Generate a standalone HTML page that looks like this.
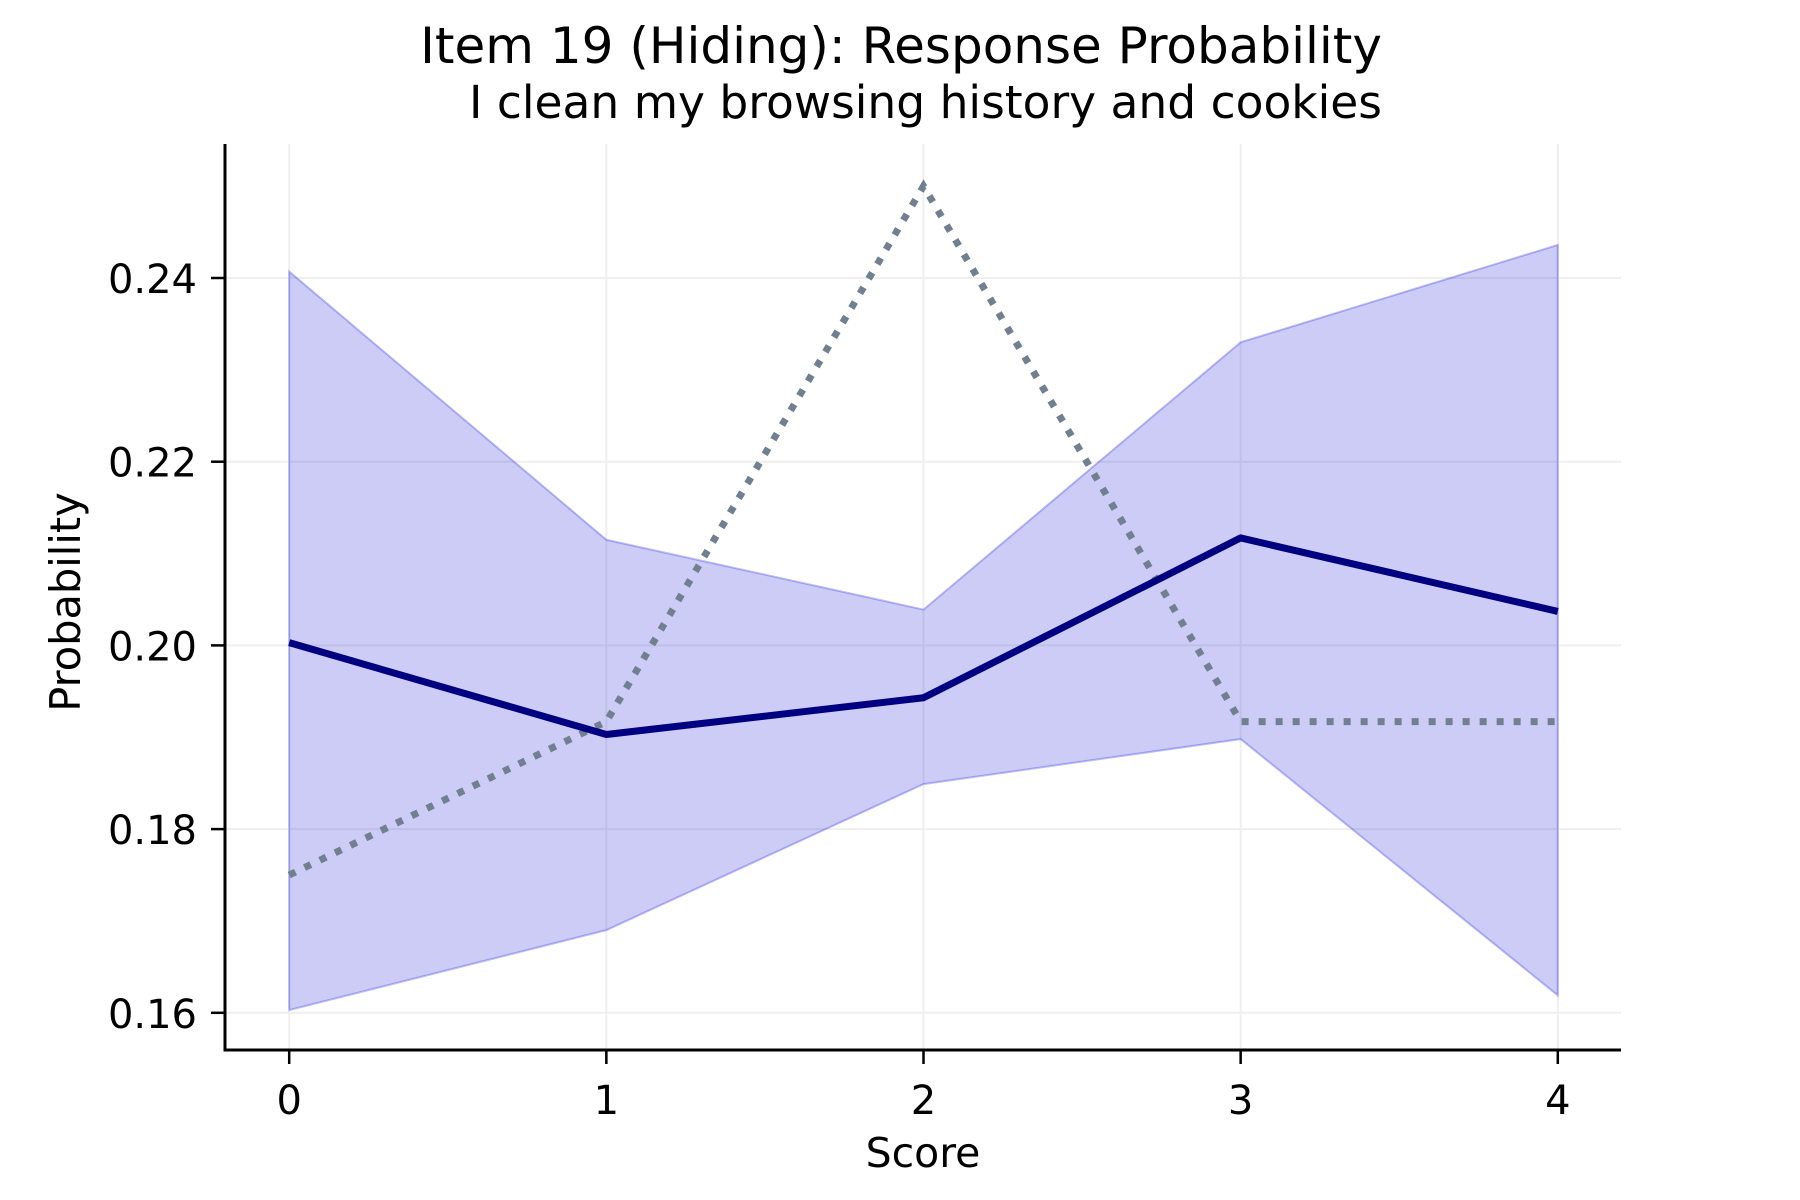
<!DOCTYPE html>
<html><head><meta charset="utf-8"><style>
html,body{margin:0;padding:0;background:#fff;}
svg{display:block;font-family:"DejaVu Sans","Liberation Sans",sans-serif;}
</style></head><body>
<svg id="chart" width="1800" height="1200" viewBox="0 0 1800 1200">
<text x="1382" y="63" text-anchor="end" font-size="50">Item 19 (Hiding): Response Probability</text>
<text x="1382" y="118" text-anchor="end" font-size="45.5">I clean my browsing history and cookies</text>
<g id="grid"></g>
<g id="plot"></g>
<g id="axes"></g>
<text x="923" y="1167" text-anchor="middle" font-size="41">Score</text>
<text transform="translate(80,602) rotate(-90)" text-anchor="middle" font-size="41.5">Probability</text>
</svg>
<script>
const scores = [0, 1, 2, 3, 4];
const meanProb = [0.2003, 0.1903, 0.1943, 0.2117, 0.2037];
const upperProb = [0.2407, 0.2115, 0.2039, 0.2330, 0.2436];
const lowerProb = [0.1603, 0.1690, 0.1849, 0.1898, 0.1619];
const observedProb = [0.1750, 0.1917, 0.2500, 0.1917, 0.1917];
const yTicks = [0.16, 0.18, 0.20, 0.22, 0.24];
const yTickLabels = ["0.16", "0.18", "0.20", "0.22", "0.24"];

const NS = "http://www.w3.org/2000/svg";
const L = 225, R = 1621, T = 144, B = 1050;
const x = v => 289.2 + (v - 0) * 317.15;
const y = v => 645.4 - (v - 0.20) / 0.02 * 183.7;
function mk(tag, attrs, parent) {
  const e = document.createElementNS(NS, tag);
  for (const k in attrs) e.setAttribute(k, attrs[k]);
  parent.appendChild(e);
  return e;
}
const grid = document.getElementById('grid');
const plot = document.getElementById('plot');
const axes = document.getElementById('axes');

scores.forEach(s => {
  const g = mk('line', {x1: x(s), x2: x(s), y1: T, y2: B, stroke: '#efefef', 'stroke-width': 2}, grid);
  
  
});
yTicks.forEach(t => {
  const g = mk('line', {x1: L, x2: R, y1: y(t), y2: y(t), stroke: '#efefef', 'stroke-width': 2}, grid);
  
  
});

let pts = scores.map((s, i) => x(s) + ',' + y(upperProb[i]));
pts = pts.concat(scores.map((s, i) => x(s) + ',' + y(lowerProb[i])).reverse());
const band = mk('polygon', {points: pts.join(' '), fill: 'rgba(0,0,210,0.2)', stroke: 'rgba(0,0,230,0.25)', 'stroke-width': 2}, plot);



const obs = mk('polyline', {points: scores.map((s, i) => x(s) + ',' + y(observedProb[i])).join(' '), fill: 'none', stroke: '#708090', 'stroke-width': 7, 'stroke-dasharray': '7 10'}, plot);



const mean = mk('polyline', {points: scores.map((s, i) => x(s) + ',' + y(meanProb[i])).join(' '), fill: 'none', stroke: '#000080', 'stroke-width': 7, 'stroke-linejoin': 'round'}, plot);



const ya = mk('line', {x1: L, x2: L, y1: T, y2: B + 1.5, stroke: '#000', 'stroke-width': 3}, axes);


const xa = mk('line', {x1: L - 1.5, x2: R, y1: B, y2: B, stroke: '#000', 'stroke-width': 3}, axes);



scores.forEach(s => {
  const tk = mk('line', {x1: x(s), x2: x(s), y1: B, y2: B + 14, stroke: '#000', 'stroke-width': 2.5}, axes);
  
  
  const lb = mk('text', {x: x(s), y: B + 64, 'text-anchor': 'middle', 'font-size': 40}, axes);
  lb.textContent = String(s);
  
  
});
yTicks.forEach((t, i) => {
  const tk = mk('line', {x1: L - 14, x2: L, y1: y(t), y2: y(t), stroke: '#000', 'stroke-width': 2.5}, axes);
  
  
  const lb = mk('text', {x: L - 28, y: y(t) + 15, 'text-anchor': 'end', 'font-size': 40}, axes);
  lb.textContent = yTickLabels[i];
  
  
});
</script>
</body></html>
